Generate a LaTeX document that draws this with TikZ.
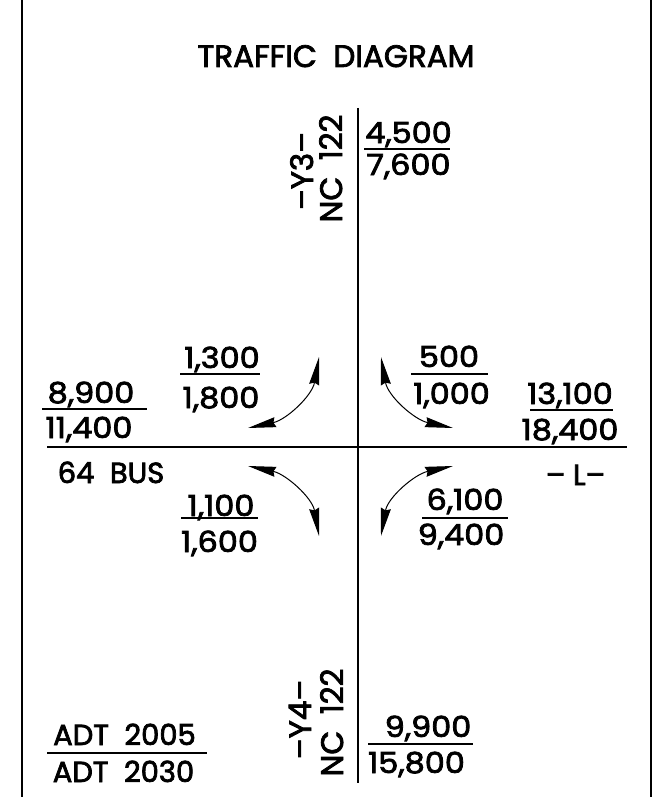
\documentclass[tikz,border=0pt]{standalone}
\usepackage{fontspec}
\setmainfont{Poppins}
\newfontfamily\nf{Poppins}[FakeBold=2.5]
\usetikzlibrary{arrows.meta}
\begin{document}
\begin{tikzpicture}[x=1pt,y=-1pt,
  num/.style={font=\nf\fontsize{29}{32}\selectfont, inner sep=0pt, anchor=base},
  numw/.style={num, xscale=1.1},
  rot/.style={font=\nf\fontsize{31}{34}\selectfont, inner sep=0pt, anchor=base, rotate=90},
  ttl/.style={font=\nf\fontsize{31}{34}\selectfont, inner sep=0pt, anchor=base},
  fbar/.style={line width=1.3pt},
  road/.style={line width=1.6pt},
  frame/.style={line width=1.6pt},
  turn/.style={line width=1pt, {Stealth[length=28pt,width=10pt,inset=2pt]}-{Stealth[length=28pt,width=10pt,inset=2pt]}}
]
\useasboundingbox[fill=white] (0,0) rectangle (654,797);
% frame lines
\coordinate (fl1) at (22,0); \coordinate (fl2) at (22,797);
\coordinate (fr1) at (651,0); \coordinate (fr2) at (651,797);
\draw[frame] (fl1) -- (fl2);
\draw[frame] (fr1) -- (fr2);
% title
\node[ttl] (title) at (336,67) {TRAFFIC\ \ DIAGRAM};
% roads
\coordinate (rn) at (358,108); \coordinate (rs) at (358,783);
\coordinate (rw) at (47,447); \coordinate (re) at (627,447);
\draw[road] (rn) -- (rs);
\draw[road] (rw) -- (re);
% road labels
\node[rot] (nc1) at (342,168.5) {NC\ \ 122};
\node[rot] (y3) at (313,171) {–Y3–};
\node[rot] (nc2) at (343,722.5) {NC\ \ 122};
\node[rot] (y4) at (311,719.5) {–Y4–};
\node[num] (bus) at (111,483) {64\ \ BUS};
\node[num] (ll) at (575.5,485) {–\ L–};
% north approach
\node[numw] (nt) at (408.5,143) {4,500};
\node[numw] (nb) at (408.5,175) {7,600};
\draw[fbar] (364,149) -- (450,149);
% south approach
\node[numw] (st) at (428,737) {9,900};
\node[numw] (sb) at (416.5,773) {15,800};
\draw[fbar] (368,744) -- (473,744);
% west approach
\node[numw] (wt) at (91,403) {8,900};
\node[numw] (wb) at (89,438) {11,400};
\draw[fbar] (42,409) -- (147,409);
% east approach
\node[numw] (et) at (570,404) {13,100};
\node[numw] (eb) at (570,440) {18,400};
\draw[fbar] (530,410) -- (613,410);
% NW turn
\node[numw] (nwt) at (222,368) {1,300};
\node[numw] (nwb) at (221,408) {1,800};
\draw[fbar] (180,374) -- (260,374);
% NE turn
\node[numw] (net) at (449,367) {500};
\node[numw] (neb) at (451.5,404) {1,000};
\draw[fbar] (411,374) -- (488,374);
% SW turn
\node[numw] (swt) at (221,516) {1,100};
\node[numw] (swb) at (219.5,552) {1,600};
\draw[fbar] (181,518) -- (258,518);
% SE turn
\node[numw] (set) at (465,510) {6,100};
\node[numw] (seb) at (461,545) {9,400};
\draw[fbar] (422,518) -- (508,518);
% legend
\node[num] (adt1) at (124.5,745) {ADT\ \ 2005};
\node[num] (adt2) at (123.5,782) {ADT\ \ 2030};
\draw[fbar] (47,753) -- (207,753);
% turning arrows
\coordinate (nwA) at (248,428); \coordinate (nwB) at (319,357);
\coordinate (neA) at (453,428); \coordinate (neB) at (381,357);
\coordinate (swA) at (248,466); \coordinate (swB) at (319,536);
\coordinate (seA) at (453,466); \coordinate (seB) at (381,536);
\draw[turn] (nwA) to[out=12,in=-100] (nwB);
\draw[turn] (neB) to[out=-80,in=168] (neA);
\draw[turn] (swA) to[out=-12,in=100] (swB);
\draw[turn] (seA) to[out=192,in=80] (seB);
\end{tikzpicture}
\end{document}
